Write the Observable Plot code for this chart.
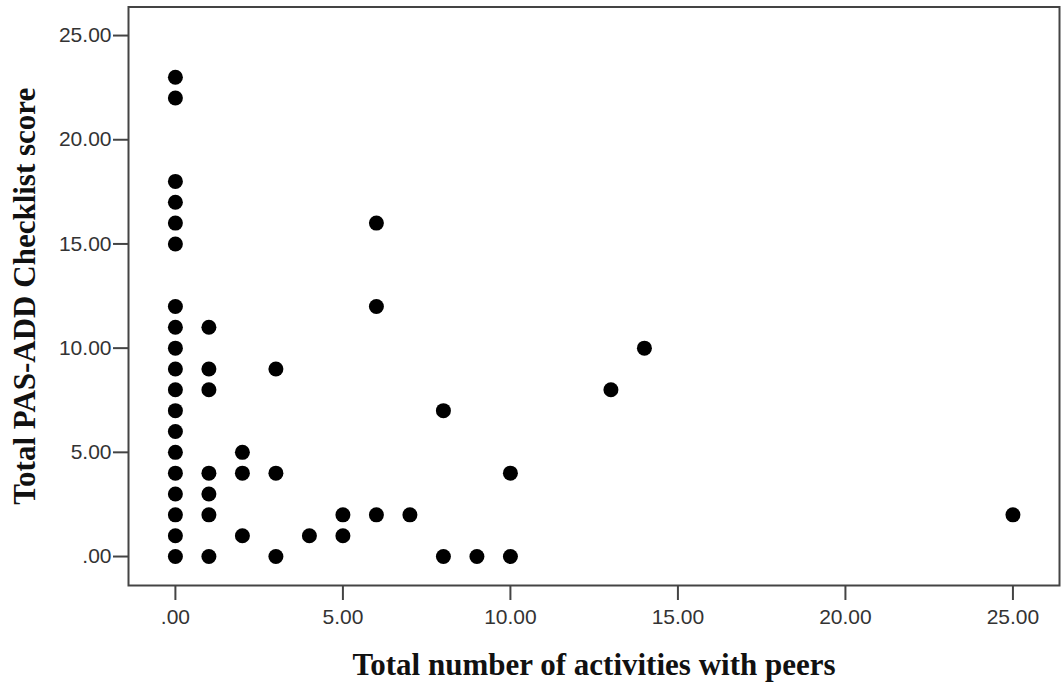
<!DOCTYPE html>
<html><head><meta charset="utf-8">
<script src="https://cdn.jsdelivr.net/npm/d3@7"></script>
<script src="https://cdn.jsdelivr.net/npm/@observablehq/plot@0.6"></script>
<style>body{margin:0;background:#fff}</style>
</head><body><div id="chart"></div>
<script>
const activities = [0,0,0,0,0,0,0,0,0,0,0,0,0,0,0,0,0,0,0,
  1,1,1,1,1,1,1, 2,2,2, 3,3,3, 4, 5,5, 6,6,6, 7, 8,8, 9, 10,10, 13, 14, 25];
const scores = [0,1,2,3,4,5,6,7,8,9,10,11,12,15,16,17,18,22,23,
  0,2,3,4,8,9,11, 1,4,5, 0,4,9, 1, 1,2, 2,12,16, 2, 0,7, 0, 0,4, 8, 10, 2];
const xTicks = [0,5,10,15,20,25];
const yTicks = [0,5,10,15,20,25];
const xLabel = "Total number of activities with peers";
const yLabel = "Total PAS-ADD Checklist score";
const fmt = d => d === 0 ? ".00" : d.toFixed(2);
const data = activities.map((a, i) => ({a, s: scores[i]}));
const chart = Plot.plot({
  width: 1062, height: 689,
  marginLeft: 128, marginRight: 3, marginTop: 6.5, marginBottom: 104,
  x: {domain: [-1.4, 26.39]},
  y: {domain: [-1.39, 26.37]},
  style: {background: "#fff", fontFamily: "Liberation Sans", fontSize: "21px"},
  marks: [
    Plot.axisX(xTicks, {tickSize: 15, tickPadding: 9, tickFormat: fmt, fontSize: 21, fill: "#333", stroke: "#444", strokeWidth: 2, label: null}),
    Plot.axisY(yTicks, {tickSize: 15, tickPadding: 2, tickFormat: fmt, fontSize: 21, fill: "#333", stroke: "#444", strokeWidth: 2, label: null}),
    Plot.frame({stroke: "#444", strokeWidth: 2}),
    Plot.dot(data, {x: "a", y: "s", r: 7.5, fill: "black"}),
    Plot.text([xLabel], {text: d => d, frameAnchor: "bottom", textAnchor: "middle", dy: 89, fontSize: 31, fontWeight: "bold", fontFamily: "Liberation Serif", fill: "#111"}),
    Plot.text([yLabel], {text: d => d, frameAnchor: "left", textAnchor: "middle", dx: -103, rotate: -90, fontSize: 31, fontWeight: "bold", fontFamily: "Liberation Serif", fill: "#111"})
  ]
});
document.getElementById("chart").append(chart);
</script></body></html>
